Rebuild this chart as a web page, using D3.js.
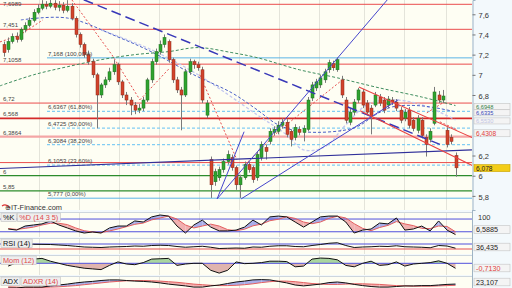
<!DOCTYPE html>
<html>
<head>
<meta charset="utf-8">
<script src="https://cdnjs.cloudflare.com/ajax/libs/d3/7.8.5/d3.min.js"></script>
<style>
  body { margin: 0; background: #fff; }
  svg { display: block; }
</style>
</head>
<body>
<div id="chart"></div>
<script>
// ---- price data (one candle per session) ----
const opens = [
  7.30, 7.25, 7.33, 7.38, 7.35, 7.45, 7.49, 7.54, 7.62, 7.66,
  7.70, 7.68, 7.71, 7.67, 7.69, 7.64, 7.68, 7.56, 7.40, 7.30,
  7.20, 7.13, 7.00, 6.80, 6.90, 6.95, 7.03, 7.10, 6.93, 6.80,
  6.75, 6.70, 6.65, 6.67, 6.75, 6.95, 7.13, 7.23, 7.30, 7.33,
  7.15, 6.95, 6.85, 6.80, 7.03, 7.13, 7.10, 7.05, 6.60, 6.16,
  5.94, 5.98, 6.06, 6.14, 6.18, 6.08, 5.91, 5.98, 6.11, 6.08,
  5.98, 6.18, 6.28, 6.34, 6.43, 6.44, 6.50, 6.53, 6.44, 6.38,
  6.46, 6.43, 6.46, 6.77, 6.87, 6.90, 6.95, 7.05, 7.11, 7.05,
  6.95, 6.75, 6.53, 6.63, 6.75, 6.83, 6.72, 6.67, 6.70, 6.78,
  6.75, 6.70, 6.75, 6.73, 6.65, 6.57, 6.65, 6.55, 6.45, 6.55,
  6.38, 6.36, 6.52, 6.80, 6.75, 6.45, 6.38, 6.20
];
const highs = [
  7.33, 7.37, 7.41, 7.42, 7.47, 7.52, 7.57, 7.65, 7.70, 7.74,
  7.73, 7.75, 7.74, 7.73, 7.72, 7.74, 7.71, 7.58, 7.42, 7.32,
  7.24, 7.16, 7.02, 6.92, 6.98, 7.07, 7.15, 7.12, 6.95, 6.83,
  6.78, 6.73, 6.71, 6.78, 6.97, 7.16, 7.26, 7.34, 7.40, 7.35,
  7.17, 6.98, 6.88, 7.06, 7.16, 7.15, 7.13, 7.08, 6.75, 6.19,
  6.07, 6.09, 6.17, 6.25, 6.21, 6.10, 6.01, 6.14, 6.14, 6.10,
  6.24, 6.34, 6.31, 6.47, 6.49, 6.54, 6.57, 6.56, 6.46, 6.51,
  6.49, 6.50, 6.78, 6.93, 6.96, 7.00, 7.06, 7.15, 7.14, 7.17,
  6.99, 6.78, 6.66, 6.76, 6.87, 6.86, 6.75, 6.70, 6.83, 6.81,
  6.78, 6.79, 6.78, 6.76, 6.68, 6.66, 6.68, 6.58, 6.60, 6.58,
  6.41, 6.47, 6.88, 6.84, 6.85, 6.48, 6.41, 6.23
];
const lows = [
  7.18, 7.22, 7.31, 7.32, 7.33, 7.42, 7.47, 7.52, 7.60, 7.64,
  7.65, 7.66, 7.64, 7.63, 7.61, 7.62, 7.54, 7.37, 7.27, 7.17,
  7.10, 6.97, 6.47, 6.77, 6.87, 6.93, 7.00, 6.90, 6.77, 6.70,
  6.60, 6.61, 6.62, 6.64, 6.73, 6.92, 7.10, 7.20, 7.27, 7.12,
  6.92, 6.82, 6.45, 6.78, 7.00, 7.06, 7.04, 6.72, 6.57, 5.78,
  5.90, 5.95, 6.03, 6.11, 6.05, 5.86, 5.78, 5.96, 6.03, 5.93,
  5.95, 6.15, 6.16, 6.31, 6.40, 6.41, 6.47, 6.38, 6.29, 6.35,
  6.40, 6.34, 6.44, 6.74, 6.84, 6.87, 6.92, 7.02, 7.04, 7.03,
  6.77, 6.52, 6.50, 6.60, 6.72, 6.67, 6.60, 6.41, 6.68, 6.69,
  6.62, 6.67, 6.70, 6.64, 6.52, 6.54, 6.47, 6.44, 6.42, 6.37,
  6.19, 6.33, 6.50, 6.72, 6.72, 6.28, 6.31, 5.99
];
const closes = [
  7.22, 7.33, 7.38, 7.35, 7.45, 7.49, 7.54, 7.62, 7.66, 7.70,
  7.68, 7.71, 7.67, 7.69, 7.64, 7.68, 7.56, 7.40, 7.30, 7.20,
  7.13, 7.00, 6.80, 6.90, 6.95, 7.03, 7.10, 6.93, 6.80, 6.75,
  6.70, 6.65, 6.67, 6.75, 6.95, 7.13, 7.23, 7.30, 7.37, 7.15,
  6.95, 6.85, 6.80, 7.03, 7.13, 7.10, 7.07, 6.75, 6.72, 5.91,
  6.04, 6.06, 6.14, 6.21, 6.08, 5.91, 5.98, 6.11, 6.06, 5.96,
  6.21, 6.31, 6.24, 6.44, 6.46, 6.50, 6.53, 6.41, 6.36, 6.48,
  6.43, 6.47, 6.75, 6.90, 6.93, 6.97, 7.03, 7.12, 7.07, 7.15,
  6.80, 6.55, 6.63, 6.73, 6.85, 6.70, 6.63, 6.59, 6.80, 6.72,
  6.65, 6.76, 6.73, 6.67, 6.55, 6.63, 6.50, 6.47, 6.57, 6.40,
  6.31, 6.44, 6.83, 6.75, 6.79, 6.31, 6.34, 6.078
];
// candle positions where the period grid lines fall
const periodStarts = [8.3, 17.8, 27.3, 36.7, 46.2, 55.7, 65.2, 74.6, 85.3, 94.8, 104.7];

// ---- horizontal levels ----
const redLevels = [7.6989, 7.451, 7.1058, 6.72, 6.568, 6.3864, 6.13];
const redLevelLabels = ['7,6989', '7,451', '7,1058', '6,72', '6,568', '6,3864', ''];
const greenLevels = [6, 5.85];
const greenLevelLabels = ['6', '5,85'];
const fibLevels = [7.168, 6.6367, 6.4725, 6.3084, 6.1053, 5.777];
const fibLabels = ['7,168 (100,00%)', '6,6367 (61,80%)', '6,4725 (50,00%)',
                   '6,3084 (38,20%)', '6,1053 (23,60%)', '5,777 (0,00%)'];
const priceTicks = [5.8, 6, 6.2, 6.8, 7, 7.2, 7.4, 7.6];

// ---- moving averages [candle index, price] ----
const maLong = [[-1, 6.89], [7, 7.00], [15, 7.08], [23, 7.15], [31, 7.20], [39, 7.23], [46, 7.27],
                [54, 7.22], [60, 7.17], [70, 7.05], [79, 6.97], [89, 6.87], [99, 6.78], [107, 6.695]];
const maMid = [[4, 7.544], [15, 7.563], [27, 7.375], [35, 7.227], [45, 7.0], [54, 6.821], [60, 6.653],
               [65, 6.504], [71, 6.435], [83, 6.474], [88, 6.603], [92, 6.682], [99, 6.692], [107, 6.6335]];
const maSlow = [[23, 7.445], [35, 7.247], [46, 7.0], [60, 6.603], [67, 6.405], [71, 6.256], [76, 6.286],
                [81, 6.504], [86, 6.702], [92, 6.752], [99, 6.702], [107, 6.553]];

// ---- drawn trend lines [candle index, price] ----
const longDashLine = [[15.6, 7.80], [103.3, 6.31]];
const supportLine = [[-0.95, 6.071], [110.9, 6.256]];
const blueTrends = [
  [[50.5, 5.77], [92, 7.80]],
  [[50.5, 5.77], [56.9, 6.436]],
  [[56.2, 5.77], [93.4, 6.752]]
];
const redChannel = [
  [[84.1, 6.88], [111.1, 6.375]],
  [[84.4, 6.643], [111.1, 6.098]]
];
const redDotted = [
  [[-0.95, 7.326], [3.8, 7.395], [9.2, 7.544]],
  [[16.1, 7.742], [25.6, 7.197], [32.2, 6.752]],
  [[32.2, 6.752], [39.3, 7.069]],
  [[46.4, 7.0], [55.2, 6.158]],
  [[57.1, 6.108], [65.4, 6.454], [79.6, 6.93]],
  [[100.2, 6.623], [104, 6.722]],
  [[103.3, 6.534], [107.4, 6.455]]
];

// ---- last values shown on the right ----
const lastValues = [6.6948, 6.6335, 6.553, 6.4308, 6.078];
const lastLabels = ['6,6948', '6,6335', '6,5530', '6,4308', '6,078'];

// ---- indicators, one value every second session ----
const stochK = [33, 28, 47, 52, 57, 71, 52, 38, 24, 14, 19, 14, 38, 47, 47, 71, 66, 90, 99, 94,
                47, 14, 52, 75, 42, 24, 24, 28, 42, 75, 52, 90, 94, 90, 66, 42, 66, 90, 94, 94,
                66, 14, 28, 33, 61, 57, 85, 28, 33, 47, 24, 71, 28, 6.59];
const stochD = [35, 31, 36, 42, 52, 60, 60, 54, 38, 25, 19, 16, 24, 33, 44, 55, 61, 76, 85, 94,
                80, 52, 38, 47, 56, 47, 30, 25, 32, 48, 56, 72, 79, 91, 83, 66, 58, 66, 83, 93,
                85, 58, 36, 25, 40, 50, 68, 57, 49, 36, 35, 47, 45, 20];
const rsi = [62, 64, 66, 68, 67, 66, 62, 58, 52, 46, 44, 42, 46, 48, 50, 54, 52, 58, 60, 58,
             50, 44, 48, 52, 44, 34, 36, 38, 36, 46, 44, 52, 56, 56, 50, 48, 58, 66, 76, 80,
             58, 42, 46, 48, 52, 50, 56, 48, 46, 44, 40, 58, 54, 36.4];
const momentum = [-0.4, 0.1, 0.3, 0.6, 0.7, 0.3, 0.0, -0.3, -0.5, -0.7, -0.8, -0.9, -0.3, 0.2,
                  -0.1, -0.2, 0.1, 0.6, 0.65, 0.7, -0.3, -0.1, 0.0, 0.0, -1.0, -1.4, -1.0, 0.2,
                  -0.05, 0.0, 0.1, 0.3, 0.3, 0.25, -0.5, -0.4, 0.6, 0.75, 0.7, 0.5, -0.3, -0.5,
                  0.0, 0.3, -0.3, -0.2, 0.2, -0.4, -0.1, 0.0, 0.1, 0.35, 0.0, -0.713];
const adx = [10, 10, 13, 13, 13, 17, 20, 23, 27, 30, 32, 35, 37, 37, 35, 33, 32, 30, 27, 23,
             20, 17, 13, 13, 17, 20, 25, 30, 33, 37, 38, 37, 32, 27, 20, 17, 20, 23, 28, 30,
             27, 22, 18, 15, 13, 13, 15, 17, 17, 18, 18, 20, 22, 23.1];
const adxr = [14, 13, 12, 12, 12, 13, 14, 16, 18, 21, 24, 27, 30, 32, 34, 35, 35, 34, 33, 31,
              29, 26, 23, 21, 19, 18, 18, 19, 21, 24, 28, 31, 33, 33, 31, 28, 25, 23, 22, 22,
              23, 24, 24, 23, 22, 20, 18, 17, 16, 16, 16, 17, 18, 19];

// ---------------------------------------------------------------
const W = 512, H = 288, plotRight = 472;
const FONT = '"Liberation Sans", Arial, sans-serif';
const fmt = v => String(v).replace('.', ',');

const svg = d3.select('#chart').append('svg')
    .attr('width', W)
    .attr('height', H)
    .style('font-family', FONT);

svg.append('rect').attr('width', W).attr('height', H).attr('fill', '#f3f9fc');

const panels = {
    main:  { top: 0,   bottom: 210 },
    stoch: { top: 212, bottom: 237 },
    rsi:   { top: 238, bottom: 254 },
    mom:   { top: 255, bottom: 275 },
    adx:   { top: 276, bottom: 288 }
};

const x = d3.scaleLinear().domain([0, opens.length - 1]).range([4, 455.5]);
const xInd = j => x(2 * j + 1);
const yMain = d3.scaleLinear().domain([5.66, 7.7416]).range([210, 0]);

// panel backgrounds, grid and clips
Object.entries(panels).forEach(([name, p]) => {
    svg.append('rect')
        .attr('x', 0).attr('y', p.top)
        .attr('width', plotRight).attr('height', p.bottom - p.top)
        .attr('fill', '#fefef3');
    svg.append('clipPath').attr('id', 'clip-' + name)
        .append('rect')
        .attr('x', 0).attr('y', p.top)
        .attr('width', plotRight).attr('height', p.bottom - p.top);
    svg.append('g').selectAll('line').data(periodStarts).join('line')
        .attr('x1', d => Math.round(x(d)) + 0.5).attr('x2', d => Math.round(x(d)) + 0.5)
        .attr('y1', p.top).attr('y2', p.bottom)
        .attr('stroke', '#e4e4da').attr('stroke-width', 1);
    if (name !== 'main') {
        svg.append('line')
            .attr('x1', 0).attr('x2', plotRight)
            .attr('y1', p.top + 0.5).attr('y2', p.top + 0.5)
            .attr('stroke', '#cdd6de');
    }
});

const main = svg.append('g').attr('clip-path', 'url(#clip-main)');
const lineMain = d3.line().x(d => x(d[0])).y(d => yMain(d[1]));

// red horizontal levels
const redStyle = v => v === 6.568 ? ['#d42a2a', 1.6] : v === 6.3864 ? ['#f4a6a6', 2.2] : ['#ea4d4d', 1];
main.append('g').selectAll('line').data(redLevels).join('line')
    .attr('x1', 0).attr('x2', plotRight)
    .attr('y1', d => yMain(d)).attr('y2', d => yMain(d))
    .attr('stroke', d => redStyle(d)[0])
    .attr('stroke-width', d => redStyle(d)[1]);

main.append('g').selectAll('line').data(greenLevels).join('line')
    .attr('x1', 0).attr('x2', plotRight)
    .attr('y1', d => yMain(d)).attr('y2', d => yMain(d))
    .attr('stroke', '#2c8c2c').attr('stroke-width', 1.2);

// fibonacci retracement
const isEdge = i => i === 0 || i === fibLevels.length - 1;
main.append('g').selectAll('line').data(fibLevels).join('line')
    .attr('x1', 47).attr('x2', plotRight)
    .attr('y1', d => yMain(d)).attr('y2', d => yMain(d))
    .attr('stroke', (d, i) => isEdge(i) ? '#5cb4e6' : '#82cdf3')
    .attr('stroke-width', (d, i) => isEdge(i) ? 1 : 1.2)
    .attr('stroke-dasharray', (d, i) => isEdge(i) ? null : '3,2');

// moving averages
const smooth = d3.line().x(d => x(d[0])).y(d => yMain(d[1])).curve(d3.curveCatmullRom);
main.append('path').attr('d', smooth(maSlow)).attr('fill', 'none')
    .attr('stroke', '#c3c7f0').attr('stroke-width', 1.3).attr('stroke-dasharray', '3,2');
main.append('path').attr('d', smooth(maLong)).attr('fill', 'none')
    .attr('stroke', '#3f8d5f').attr('stroke-width', 1).attr('stroke-dasharray', '3,2');
main.append('path').attr('d', smooth(maMid)).attr('fill', 'none')
    .attr('stroke', '#4a60c8').attr('stroke-width', 1).attr('stroke-dasharray', '3,2');

// red dotted lines
redDotted.forEach(seg => {
    main.append('path').attr('d', lineMain(seg)).attr('fill', 'none')
        .attr('stroke', '#e65050').attr('stroke-width', 1).attr('stroke-dasharray', '2,2');
});

// candles
const candles = main.append('g');
closes.forEach((c, i) => {
    const up = c >= opens[i];
    const cx = Math.round(x(i)) + 0.5;
    candles.append('line')
        .attr('x1', cx).attr('x2', cx)
        .attr('y1', yMain(highs[i])).attr('y2', yMain(lows[i]))
        .attr('stroke', '#7a7a7a').attr('stroke-width', 1);
    const top = yMain(Math.max(c, opens[i]));
    const bot = yMain(Math.min(c, opens[i]));
    candles.append('rect')
        .attr('x', cx - 1.5).attr('y', top)
        .attr('width', 3).attr('height', Math.max(1, bot - top))
        .attr('fill', up ? '#2fa32f' : '#d2432b')
        .attr('stroke', up ? '#1f6f1f' : '#8a2a1a')
        .attr('stroke-width', 0.5);
});

// trend lines
main.append('path').attr('d', lineMain(supportLine)).attr('fill', 'none')
    .attr('stroke', '#30309a').attr('stroke-width', 1.1);
main.append('path').attr('d', lineMain(longDashLine)).attr('fill', 'none')
    .attr('stroke', '#3838b8').attr('stroke-width', 1.5).attr('stroke-dasharray', '10,5');
blueTrends.forEach(seg => {
    main.append('path').attr('d', lineMain(seg)).attr('fill', 'none')
        .attr('stroke', '#4646cc').attr('stroke-width', 1);
});
redChannel.forEach(seg => {
    main.append('path').attr('d', lineMain(seg)).attr('fill', 'none')
        .attr('stroke', '#ea4040').attr('stroke-width', 1.1);
});

// left level labels (kept inside the picture at the top)
const leftLabels = svg.append('g').attr('font-size', 6).attr('fill', '#444');
const labelY = v => Math.max(6, yMain(v) - 2);
redLevels.forEach((v, i) => {
    leftLabels.append('text').attr('x', 3).attr('y', labelY(v)).text(redLevelLabels[i]);
});
greenLevels.forEach((v, i) => {
    leftLabels.append('text').attr('x', 3).attr('y', labelY(v)).text(greenLevelLabels[i]);
});
fibLevels.forEach((v, i) => {
    leftLabels.append('text').attr('x', 48).attr('y', labelY(v)).text(fibLabels[i]);
});

// watermark
svg.append('path')
    .attr('d', 'M2,206 Q6,203 10,208')
    .attr('fill', 'none').attr('stroke', '#d33').attr('stroke-width', 1.2);
svg.append('text').attr('x', 5).attr('y', 209.5)
    .attr('font-size', 7.4).attr('fill', '#333').text('⊕IT-Finance.com');

// right axis of main panel
const axisMain = d3.axisRight(yMain)
    .tickValues(priceTicks)
    .tickFormat(fmt).tickSize(3).tickPadding(3);
const axG = svg.append('g').attr('transform', `translate(${plotRight + 0.5},0)`).call(axisMain);
axG.select('.domain').attr('stroke', '#9fb4c4');
axG.selectAll('line').attr('stroke', '#777');
axG.selectAll('text').attr('font-size', 7.5).attr('fill', '#333')
    .attr('font-family', FONT).attr('dy', '0.42em');
svg.append('line').attr('x1', plotRight + 0.5).attr('x2', plotRight + 0.5)
    .attr('y1', 210).attr('y2', H).attr('stroke', '#9fb4c4');

// value boxes
function valueBox(yc, text, color, fill, stroke, h = 7.6) {
    svg.append('rect')
        .attr('x', 474).attr('y', yc - h / 2)
        .attr('width', 36).attr('height', h)
        .attr('fill', fill).attr('stroke', stroke).attr('stroke-width', 0.6);
    svg.append('text')
        .attr('x', 476).attr('y', yc + h / 2 - 1.1)
        .attr('font-size', h - 0.4).attr('fill', color).text(text);
}
const boxColors = ['#2f8044', '#3848b8', '#c0c4e4', '#e04040', '#222'];
lastValues.forEach((v, i) => {
    const last = i === lastValues.length - 1;
    valueBox(yMain(v) + (last ? 0.3 : 1), lastLabels[i], boxColors[i],
        last ? '#f3cd18' : '#f4f4f4', last ? '#c9a200' : '#c4c4c4', i < 3 ? 6.1 : 7);
});

// ---- indicator panels ----
function twoLineFill(g, a, b, y, upColor, downColor) {
    for (let j = 0; j < a.length - 1; j++) {
        const pts = [[xInd(j), y(a[j])], [xInd(j + 1), y(a[j + 1])],
                     [xInd(j + 1), y(b[j + 1])], [xInd(j), y(b[j])]];
        g.append('path')
            .attr('d', 'M' + pts.join('L') + 'Z')
            .attr('fill', (a[j] + a[j + 1]) >= (b[j] + b[j + 1]) ? upColor : downColor)
            .attr('stroke', 'none');
    }
}
const indLine = y => d3.line().x((d, j) => xInd(j)).y(d => y(d));

function panelLabel(p, parts) {
    let xPos = 1;
    parts.forEach(([text, color]) => {
        const box = svg.append('rect').attr('x', xPos).attr('y', p.top + 1)
            .attr('height', 8.5)
            .attr('fill', '#eeeeee').attr('stroke', '#c0c0c0').attr('stroke-width', 0.6);
        const t = svg.append('text').attr('x', xPos + 2).attr('y', p.top + 7.8)
            .attr('font-size', 7.3).attr('fill', color).text(text);
        const w = t.node().getComputedTextLength() + 4;
        box.attr('width', w);
        xPos += w + 1;
    });
}

// stochastic
const ySto = d3.scaleLinear().domain([0, 100]).range([236, 214.8]);
const gSto = svg.append('g').attr('clip-path', 'url(#clip-stoch)');
twoLineFill(gSto, stochK, stochD, ySto, '#a9aee9', '#f1b0b0');
gSto.selectAll('line.lvl').data([80, 20]).join('line')
    .attr('x1', 0).attr('x2', plotRight)
    .attr('y1', d => ySto(d)).attr('y2', d => ySto(d))
    .attr('stroke', '#5050dc');
gSto.append('path').attr('d', indLine(ySto)(stochD)).attr('fill', 'none').attr('stroke', '#e46060');
gSto.append('path').attr('d', indLine(ySto)(stochK)).attr('fill', 'none').attr('stroke', '#111');
panelLabel(panels.stoch, [['%K', '#111'], ['%D (14 3 5)', '#e04848']]);
svg.append('text').attr('x', 478).attr('y', 220).attr('font-size', 7.5).attr('fill', '#333').text('100');
valueBox(229.5, '6,5885', '#222', '#f4f4f4', '#c4c4c4');

// RSI
const yRsi = d3.scaleLinear().domain([0, 100]).range([252.75, 240.25]);
const gRsi = svg.append('g').attr('clip-path', 'url(#clip-rsi)');
gRsi.append('line').attr('x1', 0).attr('x2', plotRight)
    .attr('y1', yRsi(70)).attr('y2', yRsi(70)).attr('stroke', '#5050dc');
gRsi.append('line').attr('x1', 0).attr('x2', plotRight)
    .attr('y1', yRsi(30)).attr('y2', yRsi(30)).attr('stroke', '#e65050');
gRsi.append('path').attr('d', indLine(yRsi)(rsi)).attr('fill', 'none').attr('stroke', '#111');
panelLabel(panels.rsi, [['RSI (14)', '#111']]);
valueBox(247, '36,435', '#222', '#f4f4f4', '#c4c4c4');

// momentum
const yMom = d3.scaleLinear().domain([-1.5, 1.5]).range([273.8, 252.8]);
const gMom = svg.append('g').attr('clip-path', 'url(#clip-mom)');
svg.append('clipPath').attr('id', 'mom-pos').append('rect')
    .attr('x', 0).attr('y', 255).attr('width', plotRight).attr('height', yMom(0) - 255);
svg.append('clipPath').attr('id', 'mom-neg').append('rect')
    .attr('x', 0).attr('y', yMom(0)).attr('width', plotRight).attr('height', 275 - yMom(0));
const momArea = d3.area().x((d, j) => xInd(j)).y0(yMom(0)).y1(d => yMom(d));
gMom.append('path').attr('d', momArea(momentum)).attr('fill', '#a9d5a0').attr('clip-path', 'url(#mom-pos)');
gMom.append('path').attr('d', momArea(momentum)).attr('fill', '#e0b4ae').attr('clip-path', 'url(#mom-neg)');
gMom.append('line').attr('x1', 0).attr('x2', plotRight)
    .attr('y1', yMom(0)).attr('y2', yMom(0)).attr('stroke', '#5050dc');
gMom.append('path').attr('d', indLine(yMom)(momentum)).attr('fill', 'none').attr('stroke', '#111');
panelLabel(panels.mom, [['Mom (12)', '#e04848']]);
valueBox(268, '-0,7130', '#e04040', '#f4f4f4', '#c4c4c4');

// ADX / ADXR
const yAdx = d3.scaleLinear().domain([0, 40]).range([291, 279]);
const gAdx = svg.append('g').attr('clip-path', 'url(#clip-adx)');
twoLineFill(gAdx, adx, adxr, yAdx, '#a9aee9', '#f1b0b0');
gAdx.append('path').attr('d', indLine(yAdx)(adxr)).attr('fill', 'none').attr('stroke', '#e46060');
gAdx.append('path').attr('d', indLine(yAdx)(adx)).attr('fill', 'none').attr('stroke', '#111');
panelLabel(panels.adx, [['ADX', '#111'], ['ADXR (14)', '#e04848']]);
valueBox(282, '23,107', '#222', '#f4f4f4', '#c4c4c4');
</script>
</body>
</html>
